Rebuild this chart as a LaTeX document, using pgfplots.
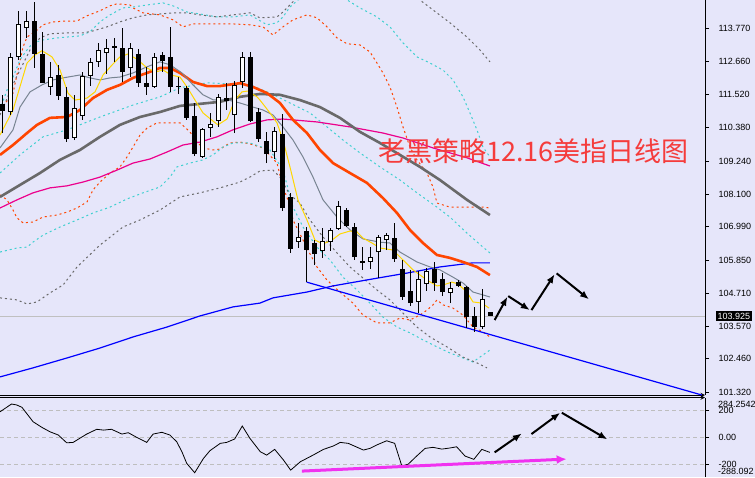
\documentclass[border=0pt]{standalone}
\usepackage{fontspec}
\setmainfont{Liberation Sans}
\newfontfamily\cjk{Noto Sans CJK SC}
\usepackage{pgfplots}
\usepackage{pgfplotstable}
\pgfplotsset{compat=1.18}
\usetikzlibrary{arrows.meta}

\definecolor{bg}{RGB}{230,230,250}
\definecolor{ored}{RGB}{255,69,0}
\definecolor{cyd}{RGB}{64,208,208}
\definecolor{dgray}{RGB}{105,105,105}
\definecolor{tgray}{RGB}{120,132,146}
\definecolor{ma5}{RGB}{255,215,0}
\definecolor{titlered}{RGB}{245,60,60}
\definecolor{pinkarrow}{RGB}{240,50,240}

% OHLC, one row per daily bar
\pgfplotstableread{
i o h l c
0 111.20 111.51 110.20 110.96
1 110.92 112.95 110.82 112.81
2 112.81 114.39 112.71 113.94
3 113.80 114.39 113.46 114.04
4 114.04 114.70 112.43 112.91
5 112.91 113.67 111.90 111.92
6 111.78 112.64 111.51 112.12
7 112.19 112.54 111.34 111.47
8 111.44 111.78 109.90 110.00
9 110.03 111.51 109.96 111.06
10 110.79 112.30 110.65 112.16
11 112.16 112.78 111.82 112.64
12 112.64 113.29 112.47 113.05
13 112.95 113.43 112.23 113.12
14 113.19 113.46 112.64 113.12
15 113.12 113.80 111.95 112.30
16 112.43 113.29 112.12 113.12
17 112.91 113.08 111.78 111.92
18 111.92 112.47 111.51 111.78
19 111.78 112.95 111.75 112.81
20 112.88 112.98 112.30 112.67
21 112.81 113.84 111.61 111.78
22 111.82 112.12 111.54 111.78
23 111.75 111.82 110.65 110.72
24 110.79 111.23 109.41 109.48
25 109.38 110.38 109.35 110.34
26 110.38 110.89 110.07 110.51
27 110.62 111.54 110.41 111.44
28 111.40 111.92 110.99 111.30
29 110.82 111.99 110.20 111.85
30 111.95 112.98 111.75 112.81
31 112.81 112.98 110.58 110.62
32 110.92 111.06 109.90 110.00
33 109.93 110.24 109.17 109.48
34 109.55 110.41 109.31 110.27
35 110.17 110.86 107.53 107.63
36 108.01 108.15 106.09 106.23
37 106.47 107.12 106.26 106.64
38 106.84 106.98 105.09 106.19
39 106.43 106.53 105.68 106.05
40 106.16 106.95 105.92 106.50
41 106.47 106.95 106.16 106.88
42 106.91 107.87 106.88 107.70
43 107.56 107.63 106.98 107.01
44 106.98 107.12 105.85 105.95
45 105.81 106.29 105.51 105.75
46 105.78 106.29 105.54 105.95
47 106.12 106.71 105.23 106.64
48 106.53 106.77 106.19 106.71
49 106.60 107.12 105.78 105.88
50 105.54 105.85 104.48 104.58
51 104.79 105.51 104.27 104.37
52 104.41 105.47 104.03 105.20
53 105.03 105.57 104.79 105.47
54 105.54 105.78 104.79 105.06
55 105.20 105.40 104.61 104.75
56 104.72 105.09 104.37 104.89
57 105.09 105.16 104.92 104.96
58 104.92 104.96 103.52 103.89
59 103.93 104.24 103.38 103.55
60 103.55 104.85 103.48 104.51
61 104.07 104.07 103.93 103.93
}\ohlc

\pgfplotsset{
  panel/.style={
    scale only axis, width=705pt,
    xmin=-0.34, xmax=87.8,
    axis y line=right,
    axis line style={-, black, line width=1pt},
    xtick=\empty,
    tick align=outside, major tick length=4pt,
    ytick style={black, line width=0.8pt},
    yticklabel style={font=\fontsize{9}{10}\selectfont, anchor=west, xshift=6pt},
  },
}
\tikzset{
  bband/.style={line width=1pt, dash pattern=on 2pt off 3pt},
  callout/.style={black, line width=2pt, -{Latex[length=9pt,width=7pt]}},
}

\begin{document}
\begin{tikzpicture}
\fill[bg] (0,0) rectangle (755pt,-477pt);
\useasboundingbox (0,0) rectangle (755pt,-477pt);

% ---------- price panel ----------
\begin{axis}[panel,
  at={(0pt,0pt)}, anchor=north west, height=395pt,
  ymin=101.22, ymax=114.76,
  axis x line=bottom,
  ytick={101.32,102.46,103.57,104.71,105.85,106.99,108.10,109.24,110.38,111.52,112.66,113.77},
  yticklabels={101.320,102.460,103.570,104.710,105.850,106.990,108.100,109.240,110.380,111.520,112.660,113.770},
]
% current price line
\addplot[color={rgb,255:red,192;green,192;blue,192}, line width=1pt] coordinates {(-0.34,103.925) (87.8,103.925)};

% bands
\addplot[ored, bband] coordinates {(-0.34,110.99) (1.29,111.57) (1.91,112.36) (2.54,113.15) (3.04,113.49) (4.29,113.73) (5.04,113.91) (6.29,114.01) (8.04,114.04) (9.29,114.04) (10.54,114.22) (12.16,114.39) (13.41,114.56) (14.29,114.63) (15.91,114.59) (16.29,114.49) (17.54,114.32) (19.66,114.25) (21.29,114.08) (22.54,113.84) (23.79,113.94) (26.79,113.94) (28.79,113.94) (30.91,113.91) (32.54,113.84) (33.79,113.56) (35.04,113.84) (36.29,114.08) (38.04,114.25) (39.29,114.15) (40.54,113.84) (41.79,113.46) (43.04,113.26) (44.66,113.22) (45.91,112.98) (46.79,112.60) (47.54,112.26) (48.41,111.78) (49.29,111.09) (50.04,110.41) (50.91,109.72) (51.79,109.28) (53.04,108.83) (53.79,108.35) (54.29,107.80) (55.91,107.66) (58.04,107.66) (60.04,107.66) (60.91,107.63)};
\addplot[ored, bband] coordinates {(-0.34,108.08) (0.54,107.91) (1.29,107.56) (1.79,107.29) (2.54,107.12) (3.79,107.15) (5.04,107.32) (6.79,107.39) (8.04,107.49) (9.29,107.63) (10.54,107.84) (11.29,108.25) (12.16,108.52) (13.41,108.83) (14.66,109.04) (15.54,109.38) (16.29,109.72) (17.16,110.13) (18.04,110.37) (19.29,110.55) (20.54,110.55) (22.16,110.55) (23.41,110.24) (24.29,109.89) (25.04,109.69) (26.29,109.62) (27.16,109.65) (28.41,109.86) (29.66,109.89) (30.91,109.83) (32.54,109.69) (34.29,109.17) (35.04,108.35) (35.91,107.73) (36.29,107.22) (38.16,106.19) (39.29,105.61) (40.54,105.16) (42.16,104.75) (43.79,104.37) (45.04,103.96) (46.79,103.69) (48.41,103.69) (49.66,103.86) (50.91,103.79) (52.16,103.96) (53.04,104.13) (53.79,104.31) (54.29,104.48) (55.04,104.31) (56.29,104.20) (57.54,103.96) (58.79,103.55) (60.04,103.38) (60.91,103.21)};
\addplot[cyd, bband] coordinates {(-0.34,110.99) (0.54,111.68) (1.29,112.12) (2.16,112.71) (3.04,113.05) (3.79,113.29) (5.04,113.39) (6.79,113.46) (8.04,113.49) (9.66,113.53) (10.91,113.67) (12.16,114.01) (13.41,114.25) (15.04,114.49) (16.29,114.52) (18.04,114.59) (20.04,114.66) (21.29,114.56) (23.04,114.35) (24.66,114.28) (26.79,114.18) (28.79,114.18) (30.91,114.25) (33.04,113.91) (34.29,113.98) (35.04,114.18) (35.91,114.52) (36.91,114.76) (39.04,115.04) (41.54,115.04) (43.41,114.70) (44.66,114.49) (46.79,114.18) (48.41,113.84) (50.04,113.29) (51.79,112.81) (53.41,112.60) (55.04,112.36) (56.29,112.02) (57.54,111.44) (58.41,110.89) (59.29,110.31) (60.04,109.72) (60.91,109.38)};
\addplot[cyd, bband] coordinates {(-0.34,108.83) (2.16,109.45) (5.04,110.07) (8.04,110.31) (12.16,110.75) (16.29,111.16) (19.66,111.44) (22.16,111.75) (25.54,111.92) (30.91,111.85) (33.41,111.57) (35.91,111.23) (38.41,110.89) (40.54,110.41) (42.54,109.96) (44.66,109.52) (47.16,109.04) (49.66,108.59) (51.79,108.15) (54.29,107.66) (55.91,107.32) (58.04,106.77) (60.04,106.29) (60.91,106.09)};
\addplot[cyd, bband] coordinates {(-0.34,106.12) (1.79,106.26) (3.04,106.29) (3.79,106.46) (5.04,106.70) (7.16,106.98) (9.29,107.22) (11.29,107.46) (13.41,107.66) (15.54,107.94) (17.54,108.15) (19.66,108.35) (20.91,108.69) (21.79,109.04) (23.41,109.17) (25.04,109.28) (26.29,109.45) (27.54,109.72) (28.79,109.86) (30.91,109.86) (33.41,109.62) (35.04,108.93) (36.29,107.66) (37.54,106.98) (39.29,106.29) (40.91,105.85) (42.54,105.26) (44.29,104.82) (45.91,104.37) (47.54,103.89) (49.29,103.55) (50.91,103.35) (52.54,103.11) (54.29,102.87) (55.91,102.66) (57.54,102.49) (58.79,102.35) (59.66,102.52) (60.91,102.76)};
\addplot[dgray, bband] coordinates {(-0.34,110.82) (1.54,112.02) (3.41,113.05) (4.66,113.46) (5.91,113.60) (8.04,113.63) (10.04,113.63) (11.29,113.70) (13.04,113.84) (14.66,114.01) (16.29,114.15) (18.04,114.25) (19.66,114.28) (21.29,114.32) (23.04,114.32) (24.66,114.25) (26.79,114.18) (28.79,114.25) (30.91,114.32) (32.16,114.15) (34.29,114.18) (35.04,114.35) (36.29,114.70) (37.79,115.11) (50.91,115.11) (52.16,114.76) (53.79,114.42) (55.91,113.98) (58.04,113.49) (59.66,113.05) (60.91,112.64)};
\addplot[dgray, bband] coordinates {(-0.34,104.55) (1.79,104.48) (3.04,104.34) (4.29,104.41) (5.91,104.72) (7.54,104.99) (9.29,105.61) (12.16,106.36) (15.04,106.98) (17.16,107.22) (19.66,107.56) (22.16,108.01) (24.66,108.15) (27.16,108.32) (29.66,108.52) (30.91,108.69) (32.16,108.90) (33.79,108.93) (34.66,108.69) (35.91,108.08) (37.16,107.80) (38.41,107.22) (40.04,106.64) (41.79,106.09) (43.41,105.61) (45.04,105.23) (46.79,104.82) (48.41,104.48) (50.04,104.03) (51.79,103.55) (53.41,103.21) (55.54,102.87) (57.54,102.52) (59.29,102.32) (60.54,102.15)};

% long averages
\addplot[blue, line width=1.2pt] coordinates {(-0.34,101.84) (3.79,102.15) (8.04,102.49) (12.16,102.83) (16.29,103.21) (20.54,103.55) (24.66,103.93) (28.79,104.24) (32.16,104.37) (33.79,104.55) (38.04,104.75) (41.29,104.96) (46.91,105.23) (50.54,105.40) (54.66,105.61) (58.79,105.75) (60.91,105.75)};
\addplot[magenta, line width=1.2pt] coordinates {(-0.34,107.63) (1.79,107.91) (3.79,108.15) (5.91,108.32) (8.04,108.39) (10.04,108.52) (12.16,108.69) (14.29,108.93) (16.29,109.17) (18.41,109.31) (20.54,109.55) (22.54,109.79) (24.66,109.89) (26.79,110.07) (28.79,110.31) (30.91,110.51) (33.04,110.65) (35.04,110.68) (39.29,110.58) (43.41,110.41) (47.54,110.20) (50.04,110.03) (53.79,109.69) (58.04,109.35) (60.91,109.07)};
\addplot[dgray, line width=2.6pt] coordinates {(-0.34,108.01) (2.16,108.42) (4.66,108.83) (7.16,109.28) (9.66,109.62) (12.16,110.07) (14.66,110.48) (17.16,110.75) (19.66,110.92) (22.16,111.13) (24.66,111.20) (27.16,111.27) (29.66,111.44) (32.16,111.54) (34.66,111.51) (37.16,111.33) (39.66,111.09) (42.16,110.72) (44.66,110.24) (47.16,109.86) (49.66,109.45) (52.16,109.04) (54.66,108.59) (58.04,107.91) (60.91,107.39)};
\addplot[ored, line width=2.6pt] coordinates {(-0.34,109.45) (1.29,109.79) (3.04,110.20) (4.29,110.48) (5.91,110.72) (8.04,110.75) (9.66,110.99) (11.29,111.40) (13.04,111.68) (14.66,111.85) (16.29,112.09) (18.04,112.26) (19.66,112.43) (20.91,112.43) (22.16,112.26) (23.79,111.95) (25.54,111.81) (27.16,111.81) (29.66,111.91) (31.29,111.78) (33.04,111.57) (34.66,111.23) (36.29,110.65) (38.04,110.20) (39.66,109.62) (41.29,109.17) (43.41,108.83) (45.54,108.49) (47.54,107.97) (49.29,107.46) (50.91,106.88) (52.54,106.43) (54.29,106.02) (55.91,105.92) (57.54,105.78) (59.29,105.61) (60.91,105.33)};
\addplot[tgray, line width=1pt] coordinates {(-0.34,109.69) (1.29,110.31) (2.16,111.09) (3.41,111.61) (4.91,111.85) (6.29,112.02) (7.54,112.09) (9.66,112.19) (10.91,112.09) (12.16,112.02) (13.41,112.09) (14.66,112.12) (16.29,112.26) (18.04,112.47) (19.66,112.64) (20.91,112.54) (22.41,112.26) (23.79,111.85) (25.04,111.51) (26.29,111.34) (28.04,111.34) (29.66,111.23) (31.29,111.09) (32.54,110.99) (33.79,110.82) (35.04,110.41) (36.29,109.96) (37.54,109.38) (38.79,108.69) (40.04,107.91) (41.79,107.32) (43.41,106.88) (45.04,106.57) (47.16,106.46) (48.41,106.43) (49.66,106.12) (51.79,105.78) (53.41,105.61) (54.66,105.51) (56.29,105.26) (57.54,105.06) (58.79,104.75) (60.91,104.58)};
\addplot[ma5, line width=1pt] coordinates {(-0.34,110.13) (1.29,110.99) (3.04,112.60) (4.04,112.88) (4.91,113.02) (6.16,112.81) (7.16,112.36) (8.16,111.57) (9.04,111.33) (10.54,111.40) (11.54,111.61) (12.54,112.19) (13.66,112.53) (14.66,112.81) (15.66,112.91) (16.91,112.71) (18.04,112.43) (19.04,112.29) (20.04,112.36) (21.04,112.19) (22.16,112.12) (23.04,111.78) (24.04,111.33) (25.04,110.89) (26.29,110.61) (26.91,110.48) (28.04,110.68) (29.04,111.33) (29.91,111.61) (30.66,111.64) (31.79,111.44) (32.16,111.33) (33.41,110.89) (34.29,110.55) (35.04,109.96) (35.91,109.04) (36.91,107.91) (38.04,107.22) (39.04,106.53) (40.04,106.40) (41.16,106.53) (42.16,106.74) (43.41,106.84) (44.29,106.81) (45.04,106.60) (46.16,106.43) (47.16,106.26) (48.79,106.19) (50.04,105.85) (51.29,105.51) (53.04,105.16) (54.29,104.96) (55.04,104.99) (56.16,105.09) (56.91,105.03) (58.04,104.75) (58.79,104.41) (59.91,104.37) (60.79,104.20)};

% trend line from the low of bar 38
\addplot[blue, line width=1.2pt] coordinates {(38,105.09) (87.4,101.22)};

% candles: wicks, then bodies
\addplot[draw=none, mark=none, forget plot,
  error bars/.cd, y dir=plus, y explicit, error mark=none,
  error bar style={draw=black, solid, line width=1pt}]
  table[x=i, y=l, y error expr=\thisrow{h}-\thisrow{l}] {\ohlc};
\addplot[draw=none, mark=none, forget plot,
  error bars/.cd, y dir=plus, y explicit, error mark=none,
  error bar style={draw=black, solid, line width=5pt}]
  table[x=i, y expr={min(\thisrow{o},\thisrow{c})}, y error expr={abs(\thisrow{c}-\thisrow{o})}] {\ohlc};
\addplot[draw=none, mark=none, forget plot,
  error bars/.cd, y dir=plus, y explicit, error mark=none,
  error bar style={draw=white, solid, line width=3pt}]
  table[x=i, y expr={\thisrow{o}+0.035}, y error expr={max(\thisrow{c}-\thisrow{o}-0.07,0)}] {\ohlc};

% forecast arrows
\draw[callout] (axis cs:61.5,103.79) -- (axis cs:63.1,104.59);
\draw[callout] (axis cs:63.2,104.61) -- (axis cs:65.9,104.13);
\draw[callout] (axis cs:66.1,104.13) -- (axis cs:69.0,105.36);
\draw[callout] (axis cs:69.25,105.39) -- (axis cs:73.3,104.50);
\end{axis}

% ---------- oscillator panel ----------
\begin{axis}[panel,
  at={(0pt,-397.5pt)}, anchor=north west, height=79.5pt,
  ymin=-290.3, ymax=291.6,
  axis x line=top,
  ytick={-200,0,200}, yticklabels={-200,0.00,200},
  ymajorgrids, grid style={color={rgb,255:red,190;green,190;blue,190}, line width=0.8pt, dash pattern=on 4pt off 3pt},
]
\addplot[black, line width=0.8pt] coordinates {(-0.34,187) (1.1,244) (1.75,237) (2.4,220) (3.8,114) (4.9,73) (5.9,41) (6.95,17) (8,-40) (8.8,-37) (10.5,24) (11.75,59) (12.6,53) (13.6,59) (14.9,24) (15.7,34) (16.75,0) (18,-37) (18.8,24) (19.9,37) (20.9,17) (21.75,-32) (22.4,-105) (23,-190) (24,-259) (25.1,-154) (25.9,-98) (27.2,-44) (28,-37) (29,-12) (29.95,83) (30.9,-7) (32.2,-105) (33,-130) (34,-88) (35.1,-166) (36,-240) (37.2,-179) (38.8,-130) (40.1,-88) (41.3,-64) (42.2,-37) (43.2,-44) (45.1,-93) (45.9,-81) (46.75,-56) (48,-25) (49,-44) (49.9,-210) (50.7,-196) (51.75,-137) (52.8,-81) (53.8,-73) (54.9,-86) (55.9,-78) (56.75,-69) (57.8,-137) (58.9,-161) (59.9,-88) (60.9,-110)};
\draw[pinkarrow, line width=3pt, -{Latex[length=10pt,width=9pt]}] (axis cs:37.4,-247) -- (axis cs:70.5,-159);
\draw[callout] (axis cs:61.5,-110) -- (axis cs:64.9,29);
\draw[callout] (axis cs:66.1,24) -- (axis cs:69.7,180);
\draw[callout] (axis cs:69.9,180) -- (axis cs:75.6,-15);
\end{axis}

% labels
\node[anchor=west, text=titlered, inner sep=0pt, font=\cjk\fontsize{27}{30}\selectfont] at (378pt,-151pt) {老黑策略12.16美指日线图};
\node[anchor=west, fill=black, text=white, inner sep=1.5pt, font=\fontsize{9}{10}\selectfont] at (716pt,-316pt) {103.925};
\node[anchor=west, inner sep=0pt, font=\fontsize{9}{10}\selectfont] at (718pt,-404pt) {284.2542};
\node[anchor=west, inner sep=0pt, font=\fontsize{9}{10}\selectfont] at (718pt,-471pt) {-288.092};
\end{tikzpicture}
\end{document}
